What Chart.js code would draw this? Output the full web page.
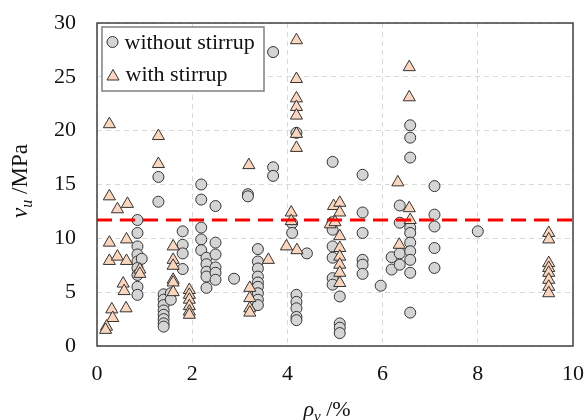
<!DOCTYPE html>
<html>
<head>
<meta charset="utf-8">
<script src="https://cdn.jsdelivr.net/npm/chart.js@4/dist/chart.umd.min.js"></script>
<style>
  html, body { margin: 0; padding: 0; background: #fff; }
  #wrap { width: 586px; height: 420px; }
</style>
</head>
<body>
<div id="wrap"><canvas id="chart" width="586" height="420"></canvas></div>
<script>
// rho_v (%) and v_u (MPa)
const withoutX = [
  0.85, 0.85, 0.85, 0.85, 0.85, 0.85, 0.85, 0.85, 0.85, 0.94,
  1.29, 1.29,
  1.40, 1.40, 1.40, 1.40, 1.40, 1.40, 1.40, 1.40,
  1.55, 1.55,
  1.80, 1.80, 1.80, 1.80,
  2.19, 2.19, 2.19, 2.19, 2.19,
  2.30, 2.30, 2.30, 2.30, 2.30,
  2.49, 2.49, 2.49, 2.49, 2.49, 2.49,
  2.88, 3.17, 3.17,
  3.38, 3.38, 3.38, 3.38, 3.38, 3.38, 3.38, 3.38, 3.38,
  3.70, 3.70, 3.70,
  4.19, 4.10, 4.10,
  4.19, 4.19, 4.19, 4.19, 4.19,
  4.41,
  4.95, 4.95, 4.95, 4.95, 4.95, 4.95, 4.95,
  5.10, 5.10, 5.10, 5.10,
  5.58, 5.58, 5.58, 5.58, 5.58, 5.58,
  5.96, 6.19, 6.19,
  6.36, 6.36, 6.36, 6.36,
  6.58, 6.58, 6.58, 6.58, 6.58, 6.58, 6.58, 6.58, 6.58, 6.58,
  7.09, 7.09, 7.09, 7.09, 7.09,
  8.00
];
const withoutY = [
  11.7, 10.5, 9.25, 8.5, 7.85, 7.25, 6.6, 5.5, 4.75, 8.1,
  15.7, 13.4,
  4.8, 4.3, 3.8, 3.3, 2.9, 2.5, 2.1, 1.8,
  4.9, 4.3,
  10.65, 9.4, 8.6, 7.15,
  15.0, 13.6, 11.0, 9.9, 8.9,
  8.2, 7.6, 6.9, 6.45, 5.4,
  13.0, 9.6, 8.5, 7.3, 6.8, 6.15,
  6.25, 14.1, 13.9,
  9.0, 7.85, 7.2, 6.45, 5.9, 5.5, 4.9, 4.3, 3.8,
  27.3, 16.6, 15.8,
  19.8, 11.4, 10.5,
  4.75, 4.1, 3.5, 2.7, 2.4,
  8.6,
  17.1, 11.5, 10.8, 9.25, 8.2, 6.3, 5.7,
  4.6, 2.1, 1.7, 1.2,
  15.9, 12.4, 10.5, 8.0, 7.55, 6.7,
  5.6, 8.25, 7.1,
  13.05, 11.45, 8.6, 7.55,
  20.5, 19.35, 17.5, 11.0, 10.5, 9.6, 8.8, 8.0, 6.8, 3.1,
  14.85, 12.2, 11.1, 9.1, 7.25,
  10.65
];

const withX = [
  0.26, 0.26, 0.43, 0.64, 0.26, 0.26, 0.43, 0.62, 0.62, 0.55, 0.57, 0.61, 0.31, 0.33, 0.20, 0.18, 0.90, 0.90,
  1.29, 1.29,
  1.60, 1.60, 1.60, 1.60, 1.60, 1.60,
  1.94, 1.94, 1.94, 1.94, 1.94, 1.94,
  3.19, 3.21, 3.21, 3.21, 3.21, 3.60,
  4.19, 4.19, 4.19, 4.19, 4.19, 4.19, 4.19,
  4.08, 4.08, 3.98, 4.20,
  4.97, 5.10, 5.10, 4.90, 5.00, 5.10, 5.10, 5.10, 5.10, 5.10, 5.10,
  6.32, 6.56, 6.58, 6.35, 6.56, 6.56,
  9.49, 9.49, 9.49, 9.49, 9.49, 9.49, 9.49, 9.49
];
const withY = [
  20.6, 13.9, 12.7, 13.2, 9.6, 7.9, 8.3, 9.9, 7.9, 5.8, 5.1, 3.5, 3.4, 2.6, 1.8, 1.5, 7.1, 6.7,
  19.5, 16.9,
  9.25, 8.0, 7.45, 6.15, 5.9, 5.0,
  5.2, 4.75, 4.3, 3.7, 3.2, 2.9,
  16.8, 5.4, 4.45, 3.5, 3.1, 8.0,
  28.4, 24.8, 23.0, 22.2, 21.4, 19.7, 18.4,
  12.4, 11.6, 9.25, 8.9,
  13.0, 13.3, 12.4, 11.3, 11.5, 10.2, 9.1, 8.3, 7.55, 6.8, 5.85,
  15.2, 12.8, 11.7, 9.4, 25.9, 23.1,
  10.5, 9.9, 7.7, 7.25, 6.8, 6.15, 5.5, 4.9
];

// red dashed limit line
const limitX = [0, 10];
const limitY = [11.7, 11.7];

const xTicks = [0, 2, 4, 6, 8, 10];
const yTicks = [0, 5, 10, 15, 20, 25, 30];

const seriesNames = ["without stirrup", "with stirrup"];

const SERIF = "'Liberation Serif', 'Times New Roman', serif";
const circleFill = "#d4d4d4";
const triFill = "#fbd6bd";
const markEdge = "#333333";

function toPoints(xs, ys) {
  return xs.map((x, i) => ({ x: x, y: ys[i] }));
}

// draw text made of parts (italic / subscript), centred on 0,0
function drawParts(ctx, parts) {
  let total = 0;
  parts.forEach(p => { ctx.font = p.font; total += ctx.measureText(p.text).width; });
  let x = -total / 2;
  parts.forEach(p => {
    ctx.font = p.font;
    ctx.fillText(p.text, x, p.dy || 0);
    x += ctx.measureText(p.text).width;
  });
}

const framePlugin = {
  id: "frame",
  afterDraw(chart) {
    const ctx = chart.ctx;
    const a = chart.chartArea;
    ctx.save();

    // plot frame
    ctx.strokeStyle = "#404040";
    ctx.lineWidth = 1.5;
    ctx.strokeRect(a.left, a.top, a.right - a.left, a.bottom - a.top);

    // legend box
    const lx = 102, ly = 27, lw = 162, lh = 64;
    ctx.fillStyle = "#fff";
    ctx.fillRect(lx, ly, lw, lh);
    ctx.strokeStyle = "#808080";
    ctx.lineWidth = 1.5;
    ctx.strokeRect(lx, ly, lw, lh);

    ctx.lineWidth = 1;
    ctx.strokeStyle = markEdge;
    ctx.fillStyle = circleFill;
    ctx.beginPath();
    ctx.arc(112.5, 42, 5.5, 0, Math.PI * 2);
    ctx.fill();
    ctx.stroke();

    const r = 7, tx = 113, ty = 76.5;
    ctx.fillStyle = triFill;
    ctx.beginPath();
    ctx.moveTo(tx, ty - r);
    ctx.lineTo(tx + r * Math.sin(2 * Math.PI / 3), ty + r * 0.5);
    ctx.lineTo(tx - r * Math.sin(2 * Math.PI / 3), ty + r * 0.5);
    ctx.closePath();
    ctx.fill();
    ctx.stroke();

    ctx.fillStyle = "#111";
    ctx.font = "22px " + SERIF;
    ctx.textBaseline = "alphabetic";
    ctx.textAlign = "left";
    ctx.fillText(seriesNames[0], 124.5, 48.5);
    ctx.fillText(seriesNames[1], 125.5, 81);

    // axis titles
    ctx.fillStyle = "#111";
    ctx.save();
    ctx.translate(27, 181);
    ctx.rotate(-Math.PI / 2);
    drawParts(ctx, [
      { text: "v", font: "italic 23px " + SERIF },
      { text: "u", font: "italic 16px " + SERIF, dy: 5 },
      { text: " /MPa", font: "23px " + SERIF }
    ]);
    ctx.restore();

    ctx.save();
    ctx.translate(327, 416);
    drawParts(ctx, [
      { text: "\u03c1", font: "italic 22px " + SERIF },
      { text: "v", font: "italic 15px " + SERIF, dy: 5 },
      { text: " /%", font: "22px " + SERIF }
    ]);
    ctx.restore();

    ctx.restore();
  }
};

new Chart(document.getElementById("chart"), {
  type: "scatter",
  data: {
    datasets: [
      {
        type: "line",
        label: "limit",
        data: toPoints(limitX, limitY),
        borderColor: "#ff0000",
        borderWidth: 3,
        borderDash: [15, 8],
        pointRadius: 0,
        fill: false,
        order: 0
      },
      {
        label: seriesNames[1],
        data: toPoints(withX, withY),
        pointStyle: "triangle",
        pointRadius: 7,
        pointBackgroundColor: triFill,
        pointBorderColor: markEdge,
        pointBorderWidth: 1,
        order: 1
      },
      {
        label: seriesNames[0],
        data: toPoints(withoutX, withoutY),
        pointStyle: "circle",
        pointRadius: 5.5,
        pointBackgroundColor: circleFill,
        pointBorderColor: markEdge,
        pointBorderWidth: 1,
        order: 2
      }
    ]
  },
  options: {
    responsive: false,
    animation: false,
    layout: { autoPadding: false, padding: { top: 23, right: 13, left: 0, bottom: 0 } },
    plugins: { legend: { display: false }, tooltip: { enabled: false } },
    scales: {
      x: {
        type: "linear",
        min: 0,
        max: 10,
        afterFit: s => { s.height = 74; s.paddingLeft = 0; s.paddingRight = 0; },
        afterBuildTicks: s => { s.ticks = xTicks.map(v => ({ value: v })); },
        ticks: { font: { family: SERIF, size: 22 }, color: "#111", padding: 15 },
        grid: { color: "#d9d9d9", lineWidth: 1, drawTicks: false },
        border: { display: false, dash: [5, 4] }
      },
      y: {
        type: "linear",
        min: 0,
        max: 30,
        afterFit: s => { s.width = 97; s.paddingTop = 0; s.paddingBottom = 0; },
        afterBuildTicks: s => { s.ticks = yTicks.map(v => ({ value: v })); },
        ticks: { font: { family: SERIF, size: 22 }, color: "#111", padding: 21 },
        grid: { color: "#d9d9d9", lineWidth: 1, drawTicks: false },
        border: { display: false, dash: [5, 4] }
      }
    }
  },
  plugins: [framePlugin]
});
</script>
</body>
</html>
